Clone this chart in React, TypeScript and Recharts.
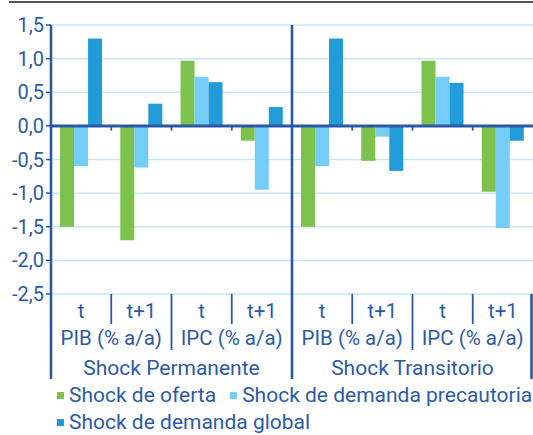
import React from "react";
import { Bar, BarChart, CartesianGrid, Legend, ReferenceLine, XAxis, YAxis } from "recharts";

const categories = ["t", "t+1", "t", "t+1", "t", "t+1", "t", "t+1"];
const variables = ["PIB (% a/a)", "IPC (% a/a)", "PIB (% a/a)", "IPC (% a/a)"];
const shocks = ["Shock Permanente", "Shock Transitorio"];

const oferta = [-1.5, -1.7, 0.97, -0.22, -1.5, -0.52, 0.97, -0.98];
const precautoria = [-0.6, -0.62, 0.73, -0.95, -0.6, -0.16, 0.73, -1.52];
const global = [1.3, 0.33, 0.65, 0.28, 1.3, -0.67, 0.64, -0.22];

const yTicks = [-2.5, -2, -1.5, -1, -0.5, 0, 0.5, 1, 1.5];

const series = [
  { key: "oferta", name: "Shock de oferta", color: "#7dc24c" },
  { key: "precautoria", name: "Shock de demanda precautoria", color: "#75cdf6" },
  { key: "global", name: "Shock de demanda global", color: "#229cd8" },
];

const data = categories.map((c, i) => ({
  id: "c" + i,
  oferta: oferta[i],
  precautoria: precautoria[i],
  global: global[i],
}));

const W = 533;
const H = 435;
const AXIS_W = 51;
const BW = (W - AXIS_W) / categories.length;
const BLUE = "#2a58a6";
const TEXT = "#2b5ba8";
const FONT = "Roboto, sans-serif";
const FS = 20.5;

const fmt = (v: number) => v.toFixed(1).replace(".", ",");

function CatTick(props: any) {
  const { x, y, index } = props;
  const left = x - BW / 2;
  let len = 30;
  let sw = 1.8;
  if (index % 2 === 0) len = 56;
  if (index % 4 === 0) {
    len = 85;
    sw = 2.6;
  }
  return (
    <g>
      <text x={x} y={y + 24} textAnchor="middle" fill={TEXT} fontSize={FS} fontFamily={FONT}>
        {categories[index]}
      </text>
      <line x1={left} x2={left} y1={y} y2={y + len} stroke={BLUE} strokeWidth={sw} />
      {index === categories.length - 1 && (
        <line x1={x + BW / 2 - 1.5} x2={x + BW / 2 - 1.5} y1={y} y2={y + 85} stroke={BLUE} strokeWidth={2.6} />
      )}
      {index % 2 === 0 && (
        <text x={x + BW / 2} y={y + 51} textAnchor="middle" fill={TEXT} fontSize={FS} fontFamily={FONT}>
          {variables[index / 2]}
        </text>
      )}
      {index % 4 === 0 && (
        <text x={x + BW * 1.5} y={y + 81} textAnchor="middle" fill={TEXT} fontSize={21} fontFamily={FONT}>
          {shocks[index / 4]}
        </text>
      )}
    </g>
  );
}

function LegendBox() {
  const item = (s: (typeof series)[number], ml: number) => (
    <div key={s.key} style={{ display: "flex", alignItems: "center", marginLeft: ml }}>
      <div style={{ width: 7, height: 7, background: s.color, marginRight: 5 }} />
      <span>{s.name}</span>
    </div>
  );
  const row = { display: "flex", alignItems: "center", height: 27, whiteSpace: "nowrap" as const };
  return (
    <div style={{ height: 56, paddingLeft: 57, color: TEXT, fontFamily: FONT, fontSize: 21, lineHeight: "27px", boxSizing: "border-box", paddingTop: 3 }}>
      <div style={row}>
        {item(series[0], 0)}
        {item(series[1], 14)}
      </div>
      <div style={row}>{item(series[2], 0)}</div>
    </div>
  );
}

export default function App() {
  return (
    <div style={{ position: "absolute", left: 0, top: 0, width: W, height: H, background: "#fff" }}>
      <div style={{ position: "absolute", left: 9, right: 0, top: 1, height: 2, background: "#555" }} />
      <BarChart
        width={W}
        height={H}
        data={data}
        margin={{ top: 25, right: 0, bottom: 0, left: 0 }}
        barCategoryGap="15%"
        barGap={0}
      >
        <CartesianGrid vertical={false} stroke="#c6e8f6" strokeWidth={1.5} />
        <XAxis
          dataKey="id"
          height={85}
          axisLine={false}
          tickLine={false}
          tickSize={0}
          tickMargin={0}
          interval={0}
          tick={<CatTick />}
        />
        <YAxis
          width={AXIS_W}
          domain={[-2.5, 1.5]}
          ticks={yTicks}
          tickFormatter={fmt}
          interval={0}
          axisLine={{ stroke: BLUE, strokeWidth: 2.6 }}
          tickLine={{ stroke: BLUE, strokeWidth: 1.5 }}
          tickSize={5}
          tickMargin={2}
          tick={{ fill: TEXT, fontSize: 20, fontFamily: FONT }}
        />
        <Legend verticalAlign="bottom" content={<LegendBox />} />
        {series.map((s) => (
          <Bar key={s.key} dataKey={s.key} name={s.name} fill={s.color} isAnimationActive={false} />
        ))}
        <ReferenceLine y={0} stroke={BLUE} strokeWidth={3} />
        <ReferenceLine x="c4" position="start" stroke={BLUE} strokeWidth={2.6} />
        {data.slice(1).map((d) => (
          <ReferenceLine
            key={d.id}
            segment={[{ x: d.id, y: 0 }, { x: d.id, y: -0.07 }]}
            position="start"
            stroke={BLUE}
            strokeWidth={1.8}
          />
        ))}
      </BarChart>
    </div>
  );
}
